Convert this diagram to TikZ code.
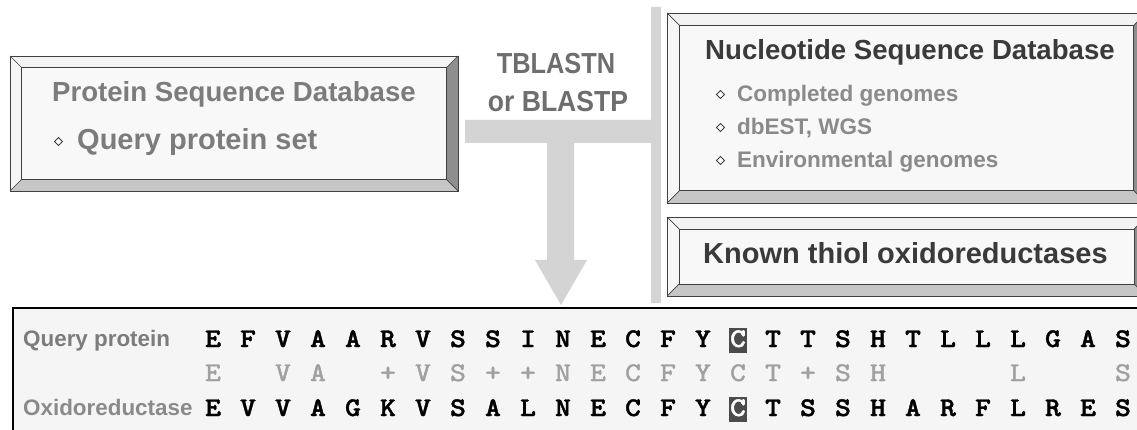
\documentclass[tikz,border=0pt]{standalone}
\usepackage{fontspec}
\setmainfont{Liberation Sans}
\newfontfamily\seqbold{lmmonolt10-bold.otf}[FakeBold=1.4]
\newfontfamily\seqreg{lmmono10-regular.otf}[FakeBold=1.6]
\usetikzlibrary{shapes.geometric}
\definecolor{bevtop}{HTML}{F3F3F3}
\definecolor{bevleft}{HTML}{F6F6F6}
\definecolor{bevright}{HTML}{8E8E8E}
\definecolor{bevbot}{HTML}{C6C6C6}
\definecolor{face}{HTML}{F8F8F8}
\definecolor{edge}{HTML}{404040}
\definecolor{lightgraytext}{HTML}{7C7C7C}
\definecolor{bulletgray}{HTML}{8A8A8A}
\definecolor{darktext}{HTML}{3A3A3A}
\definecolor{arrowgray}{HTML}{D4D4D4}
\definecolor{blasttext}{HTML}{6E6E6E}
\definecolor{matchgray}{HTML}{A0A0A0}
\definecolor{hilite}{HTML}{4B4B4B}
\definecolor{alnbg}{HTML}{F5F5F5}
\newcommand\bevbox[5]{%
  \fill[face] ({#1+#5},{#2+#5}) rectangle ({#3-#5},{#4-#5});
  \fill[bevtop] (#1,#2) -- (#3,#2) -- ({#3-#5},{#2+#5}) -- ({#1+#5},{#2+#5}) -- cycle;
  \fill[bevleft] (#1,#2) -- ({#1+#5},{#2+#5}) -- ({#1+#5},{#4-#5}) -- (#1,#4) -- cycle;
  \fill[bevright] (#3,#2) -- (#3,#4) -- ({#3-#5},{#4-#5}) -- ({#3-#5},{#2+#5}) -- cycle;
  \fill[bevbot] (#1,#4) -- (#3,#4) -- ({#3-#5},{#4-#5}) -- ({#1+#5},{#4-#5}) -- cycle;
  \draw[edge, line width=0.9] (#1,#2) rectangle (#3,#4);
  \draw[edge, line width=0.9] ({#1+#5},{#2+#5}) rectangle ({#3-#5},{#4-#5});
  \draw[edge, line width=0.7] (#1,#2) -- ({#1+#5},{#2+#5}) (#3,#2) -- ({#3-#5},{#2+#5})
     (#1,#4) -- ({#1+#5},{#4-#5}) (#3,#4) -- ({#3-#5},{#4-#5});
}
\newcommand\wide[1]{\scalebox{1.12}[1]{#1}}
\tikzset{
  dbtitle/.style={anchor=base west, inner sep=0, font=\fontsize{27.6}{30}\selectfont\bfseries},
  bulletmark/.style={diamond, draw=edge, fill=white, line width=0.9, inner sep=0, minimum width=8.5, minimum height=8.5},
  bullettext/.style={anchor=base west, inner sep=0, text=bulletgray, font=\fontsize{22.5}{25}\selectfont\bfseries},
  rowlabel/.style={anchor=base west, inner sep=0, font=\fontsize{22.4}{25}\selectfont\bfseries},
  seqletter/.style={anchor=base, inner sep=0, font=\seqbold\fontsize{27}{29}\selectfont},
  matchletter/.style={anchor=base, inner sep=0, text=matchgray, font=\seqreg\fontsize{27}{29}\selectfont},
  blastlabel/.style={anchor=base, inner sep=0, text=blasttext, font=\fontsize{29}{31}\selectfont\bfseries},
}
\begin{document}
\begin{tikzpicture}[x=1pt,y=-1pt]
\useasboundingbox (0,0) rectangle (1137,430);
\clip (0,0) rectangle (1137,430);
\fill[white] (0,0) rectangle (1137,430);

% T-shaped flow arrow
\coordinate (barL) at (465,131.5);
\coordinate (tip) at (561,305);
\fill[arrowgray] (465,120) -- (651,120) -- (651,7) -- (661,7) -- (661,303) -- (651,303)
  -- (651,143) -- (574,143) -- (574,260) -- (587,260) -- (tip) -- (535,260) -- (547,260)
  -- (547,143) -- (465,143) -- cycle;

\node[blastlabel] (blast1) at (556,74) {\scalebox{0.875}[1]{TBLASTN}};
\node[blastlabel] (blast2) at (558,112) {\scalebox{0.915}[1]{or BLASTP}};

% Protein sequence database box
\bevbox{10}{56}{458}{191}{11.5}
\node[dbtitle, text=lightgraytext] (psd) at (52,102) {Protein Sequence Database};
\node[bulletmark] (pb1) at (58.5,141.5) {};
\node[anchor=base west, inner sep=0, text=lightgraytext, font=\fontsize{29}{31}\selectfont\bfseries] (pq) at (77,150) {Query protein set};

% Nucleotide sequence database box
\bevbox{667}{13}{1146}{203}{12.5}
\node[dbtitle, text=darktext] (nsd) at (705,60) {Nucleotide Sequence Database};
\node[bulletmark] (nb1) at (720.5,94.5) {};
\node[bullettext] (n1) at (737,102) {Completed genomes};
\node[bulletmark] (nb2) at (720.5,127.5) {};
\node[bullettext] (n2) at (737,135) {dbEST, WGS};
\node[bulletmark] (nb3) at (720.5,160.5) {};
\node[bullettext] (n3) at (737,168) {Environmental genomes};

% Known thiol oxidoreductases box
\bevbox{667}{217}{1146}{296}{12}
\node[anchor=base west, inner sep=0, text=darktext, font=\fontsize{29}{31}\selectfont\bfseries] (kto) at (703,263) {Known thiol oxidoreductases};

% Alignment panel
\draw[black, line width=2.6, fill=alnbg] (13,308) rectangle (1170,460);
\node[rowlabel, text=lightgraytext] (qlab) at (23,346) {Query protein};
\node[rowlabel, text=bulletgray] (olab) at (23,415) {Oxidoreductase};

\fill[hilite] (729,328) rectangle (747,353);
\fill[hilite] (729,397) rectangle (747,422);

\foreach \c [count=\i from 0] in {E,F,V,A,A,R,V,S,S,I,N,E,C,F,Y,C,T,T,S,H,T,L,L,L,G,A,S}{
  \ifnum\i=15
    \node[seqletter, text=white] (q\i) at ({213+35*\i},347) {\wide{\c}};
  \else
    \node[seqletter] (q\i) at ({213+35*\i},347) {\wide{\c}};
  \fi
}
\foreach \c [count=\i from 0] in {E,{},V,A,{},+,V,S,+,+,N,E,C,F,Y,C,T,+,S,H,{},{},{},L,{},{},S}{
  \node[matchletter] (m\i) at ({213+35*\i},381) {\wide{\c}};
}
\foreach \c [count=\i from 0] in {E,V,V,A,G,K,V,S,A,L,N,E,C,F,Y,C,T,S,S,H,A,R,F,L,R,E,S}{
  \ifnum\i=15
    \node[seqletter, text=white] (o\i) at ({213+35*\i},416) {\wide{\c}};
  \else
    \node[seqletter] (o\i) at ({213+35*\i},416) {\wide{\c}};
  \fi
}
\end{tikzpicture}
\end{document}
